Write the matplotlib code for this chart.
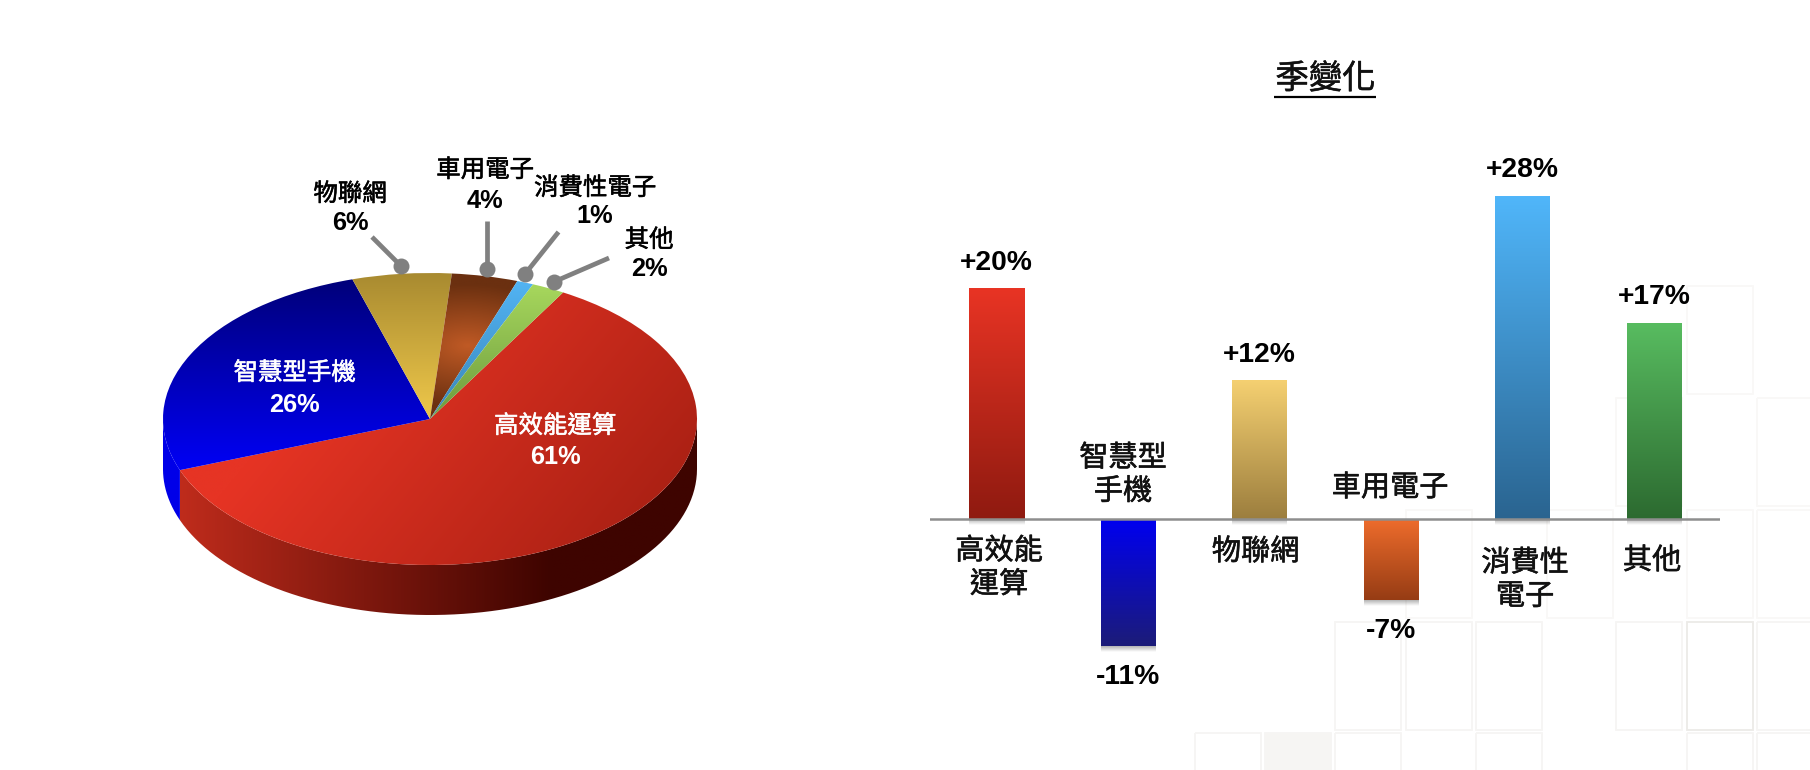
import numpy as np
import matplotlib
matplotlib.use("Agg")
import matplotlib.pyplot as plt
import matplotlib.patheffects as pe
from matplotlib.colors import to_rgb
from matplotlib.patches import PathPatch, Rectangle
from matplotlib.path import Path

plt.rcParams["font.family"] = ["Noto Sans CJK TC", "DejaVu Sans"]
LATIN = ["Liberation Sans", "Noto Sans CJK TC"]

W, H = 1810, 770

# data
categories = ["高效能運算", "智慧型手機", "物聯網", "車用電子", "消費性電子", "其他"]
shares = [61, 26, 6, 4, 1, 2]
qoq = [20, -11, 12, -7, 28, 17]
bar_labels = ["高效能\n運算", "智慧型\n手機", "物聯網", "車用電子", "消費性\n電子", "其他"]
bar_tops = ["#e83424", "#0000f0", "#f5d071", "#ee6c2c", "#50b6fa", "#58bc60"]
bar_ends = ["#8f1a10", "#1c1c78", "#9c7e3e", "#963c14", "#2a6490", "#2c6a30"]

# pixel layout of the pie and the bars in the page
PIE_CX, PIE_CY, PIE_RX, PIE_RY, PIE_DEPTH = 430, 419, 267, 146, 50
BAR_X0, BAR_STEP, BAR_W, BASE_Y, PX_PER_PCT = 996.5, 131.5, 55, 519, 11.52


def axes_px(left, top, right, bottom, **kw):
    return fig.add_axes(
        [left / W, 1 - bottom / H, (right - left) / W, (bottom - top) / H], **kw
    )


def lerp(c0, c1, t):
    c0, c1 = np.array(to_rgb(c0)), np.array(to_rgb(c1))
    return c0 + (c1 - c0) * np.clip(t, 0, 1)[..., None]


def heavy(c, w=0.4):
    # the source text is a little heavier than the regular weight
    return [pe.withStroke(linewidth=w, foreground=c)]


fig = plt.figure(figsize=(W / 100, H / 100), dpi=100, facecolor="white")

# faint squares of the slide background
bg = fig.add_axes([0, 0, 1, 1], zorder=0)
bg.set_xlim(0, W)
bg.set_ylim(H, 0)
bg.axis("off")
col_x = [1195, 1265, 1335, 1405.5, 1476, 1546.5, 1616, 1686.5, 1757]
row_y = [286, 398, 510, 622, 733]
cells = {0: [7], 1: [6, 8], 2: [3, 5, 7, 8], 3: [2, 3, 4, 6, 7, 8], 4: [0, 1, 2, 4, 7, 8]}
for r, cols in cells.items():
    for c in cols:
        edge = "#eceae7" if (r, c) == (3, 7) else ("#f9f8f7" if r < 3 else "#f6f5f3")
        face = "#f6f5f3" if (r, c) == (4, 1) else "none"
        bg.add_patch(
            Rectangle((col_x[c], row_y[r]), 66, 108, fc=face, ec=edge, lw=1.3)
        )

# pie
ax = axes_px(140, 250, 720, 640, zorder=1)
ax.patch.set_alpha(0)
wedges, _ = ax.pie(
    shares, startangle=60.1, counterclock=False, radius=1, center=(0, 0)
)
ax.set_aspect("auto")

gx, gy = np.meshgrid(np.linspace(-1.05, 1.05, 500), np.linspace(1.05, -1.05, 500))
grads = [
    lerp("#e63424", "#a01d11", ((gx - 0.45 * gy) + 0.55) / 2.0),
    lerp("#00007a", "#0000f5", (0.95 - gy) / 1.3),
    lerp("#a88a30", "#e8c248", (1.0 - gy) / 0.9),
    lerp("#c05a25", "#6b3010", np.hypot(gx - 0.14, gy - 0.5) / 0.42),
    lerp("#52b4f4", "#3a85b8", (0.95 - gy) / 0.95),
    lerp("#a6d65c", "#6c9a3e", (0.9 - gy) / 0.9),
]
ext = (-1.05, 1.05, -1.05, 1.05)
for w, g in zip(wedges, grads):
    w.set_facecolor("none")
    w.set_edgecolor("none")
    im = ax.imshow(g, extent=ext, aspect="auto", zorder=3, interpolation="bilinear")
    im.set_clip_path(w)

# side wall under the front of the pie
depth = PIE_DEPTH / PIE_RY
red_end = np.mod(wedges[0].theta1, 360)
sides = [
    (red_end, 360, lerp("#c02c1c", "#3e0400", (gx + 0.95) / 1.4)),
    (180, red_end, np.ones(gx.shape + (3,)) * np.array(to_rgb("#0000e8"))),
]
for a0, a1, g in sides:
    th = np.radians(np.linspace(a0, a1, 80))
    arc = np.c_[np.cos(th), np.sin(th)]
    low = arc[::-1] - [0, depth]
    verts = np.r_[arc, low, arc[:1]]
    wall = PathPatch(Path(verts), fc="none", ec="none")
    ax.add_patch(wall)
    im = ax.imshow(
        g, extent=(-1.05, 1.05, -1.4, 0.7), aspect="auto", zorder=2,
        interpolation="bilinear",
    )
    im.set_clip_path(wall)
ax.set_xlim((140 - PIE_CX) / PIE_RX, (720 - PIE_CX) / PIE_RX)
ax.set_ylim((PIE_CY - 640) / PIE_RY, (PIE_CY - 250) / PIE_RY)

# bars
bx = axes_px(930, 150, 1719.5, 700, zorder=1)
bx.patch.set_alpha(0)
x = np.arange(len(qoq))
bars = bx.bar(x, qoq, BAR_W / BAR_STEP, color="none")
ramp = np.linspace(0, 1, 200)[:, None]
px = 1 / PX_PER_PCT
for b, v, c0, c1 in zip(bars, qoq, bar_tops, bar_ends):
    x0, x1 = b.get_x(), b.get_x() + b.get_width()
    y0, y1 = min(v, 0), max(v, 0)
    bx.imshow(
        lerp(c0, c1, ramp), extent=(x0, x1, y0, y1), aspect="auto", zorder=3,
        interpolation="bilinear",
    )
    # soft drop shadow under the bar
    shadow = np.zeros((40, 1, 4))
    shadow[:, 0, 3] = np.linspace(0.3, 0, 40)
    bx.imshow(
        shadow, extent=(x0, x1, y0 - 6 * px, y0), aspect="auto", zorder=2,
        interpolation="bilinear",
    )
bx.axhline(0, color="#8e8e8e", lw=1.8, zorder=4)
bx.set_xlim((930 - BAR_X0) / BAR_STEP, (1719.5 - BAR_X0) / BAR_STEP)
bx.set_ylim((BASE_Y - 700) / PX_PER_PCT, (BASE_Y - 150) / PX_PER_PCT)
bx.axis("off")
for xi, v in zip(x, qoq):
    bx.annotate(
        f"{v:+d}%", (xi, v), xytext=(0, 26 * 0.72 if v > 0 else -31 * 0.72),
        textcoords="offset points", ha="center", va="center",
        fontsize=20.3, fontweight="bold", family=LATIN, color="black", zorder=5,
    )

# text and leaders on top, in page pixels
top = fig.add_axes([0, 0, 1, 1], zorder=2)
top.set_xlim(0, W)
top.set_ylim(H, 0)
top.axis("off")

top.text(1325.5, 79, "季變化", ha="center", va="center", fontsize=24, color="#111111",
         path_effects=heavy("#111111"))
top.plot([1274, 1376], [97, 97], color="black", lw=1.6, solid_capstyle="butt")

bar_label_xy = [(999, 568), (1123, 475), (1255.5, 552), (1390, 488), (1525, 580), (1652, 561)]
for s, (tx, ty) in zip(bar_labels, bar_label_xy):
    top.text(tx, ty, s, ha="center", va="center", fontsize=21, color="#111111",
             linespacing=1.15, path_effects=heavy("#111111"))

pie_label_xy = [(555, 426), (294.5, 373), (350, 194), (485, 170), (595, 188), (649, 240)]
pct_y = [457, 405, 223, 201, 216, 269]
colors = ["white", "white", "black", "black", "black", "black"]
for name, v, (tx, ty), py, c in zip(categories, shares, pie_label_xy, pct_y, colors):
    top.text(tx, ty, name, ha="center", va="center", fontsize=17.6, color=c,
             path_effects=heavy(c))
    top.text(tx, py, f"{v}%", ha="center", va="center", fontsize=18.3,
             fontweight="bold", family=LATIN, color=c)

leaders = [((372, 237), (401, 266)), ((487, 221), (487, 269)),
           ((558.5, 232), (525, 274)), ((609, 258), (553.5, 282))]
for (x0, y0), (x1, y1) in leaders:
    top.plot([x0, x1], [y0, y1], color="#808080", lw=3.4, solid_capstyle="butt")
    top.plot([x1], [y1], "o", color="#808080", ms=11.5, mew=0)

fig.savefig("out.png", dpi=100)
